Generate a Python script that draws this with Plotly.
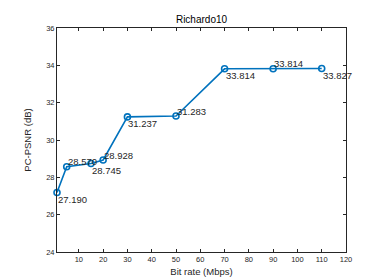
import plotly.graph_objects as go

bitrate = [1, 5, 15, 20, 30, 50, 70, 90, 110]
psnr = [27.190, 28.570, 28.745, 28.928, 31.237, 31.283, 33.814, 33.814, 33.827]
labels = ["27.190", "28.570", "28.745", "28.928", "31.237", "31.283", "33.814", "33.814", "33.827"]
label_side = ["below", "above", "below", "above", "below", "above", "below", "above", "below"]
x_ticks = [10, 20, 30, 40, 50, 60, 70, 80, 90, 100, 110, 120]
y_ticks = [24, 26, 28, 30, 32, 34, 36]

FONT = "Liberation Sans, Arial, sans-serif"
AX = "#262626"
BLUE = "#0072BD"

fig = go.Figure()
fig.add_trace(go.Scatter(
    x=bitrate, y=psnr, mode="lines+markers",
    line=dict(color=BLUE, width=1.6),
    marker=dict(symbol="circle-open", size=6, color=BLUE, line=dict(width=1.6, color=BLUE)),
    showlegend=False, cliponaxis=False,
))

for x, y, t, s in zip(bitrate, psnr, labels, label_side):
    fig.add_annotation(
        x=x, y=y, text=t, showarrow=False,
        xanchor="left", yanchor="middle",
        xshift=-1, yshift=(5 if s == "above" else -7),
        font=dict(family=FONT, size=9.5, color=AX),
    )

axis_common = dict(
    showline=True, linecolor=AX, linewidth=1, mirror="ticks",
    ticks="inside", ticklen=3, tickcolor=AX, tickwidth=1,
    showgrid=False, zeroline=False,
    tickfont=dict(family=FONT, size=7.5, color=AX),
)

fig.update_layout(
    width=374, height=280,
    margin=dict(l=48.5, r=35.5, t=20, b=31),
    paper_bgcolor="white", plot_bgcolor="white",
    title=dict(text="Richardo10", x=0.5, xanchor="center", xref="paper",
               y=1, yref="paper", yanchor="bottom", pad=dict(b=5),
               font=dict(family=FONT, size=10, color="#000000")),
    xaxis=dict(range=[1, 120], tickvals=x_ticks,
               title=dict(text="Bit rate (Mbps)", standoff=5,
                          font=dict(family=FONT, size=9.5, color=AX)),
               **axis_common),
    yaxis=dict(range=[24, 36], tickvals=y_ticks,
               title=dict(text="PC-PSNR (dB)", standoff=12,
                          font=dict(family=FONT, size=9.5, color=AX)),
               **axis_common),
)

fig.write_html("out.html")
